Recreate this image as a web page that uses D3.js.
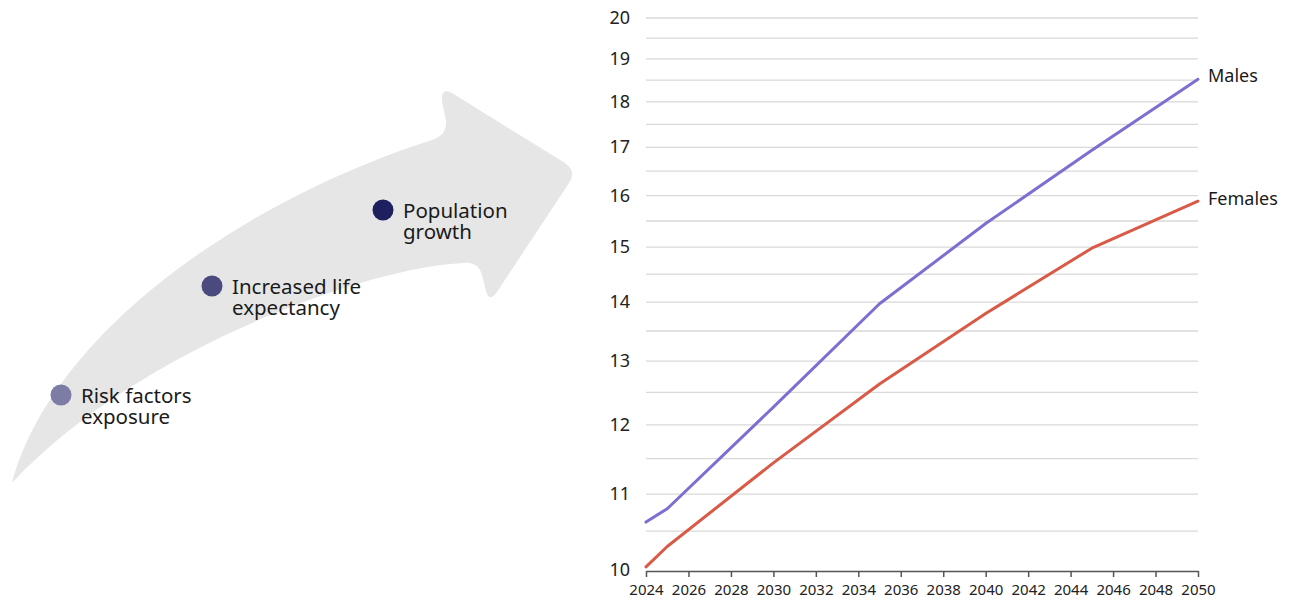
<!DOCTYPE html>
<html>
<head>
<meta charset="utf-8">
<script src="https://cdn.jsdelivr.net/npm/d3@7/dist/d3.min.js"></script>
<style>
  html, body { margin: 0; padding: 0; background: #fff; }
  svg { display: block; font-family: "Noto Sans", "Open Sans", sans-serif; }
</style>
</head>
<body>
<svg id="chart" width="1298" height="602"></svg>
<script>
// Projected values (index, log scale) by year
const years = [2024, 2025, 2030, 2035, 2040, 2045, 2050];
const males = [10.62, 10.80, 12.27, 13.97, 15.45, 16.94, 18.52];
const females = [10.04, 10.30, 11.44, 12.63, 13.80, 14.98, 15.89];

const yTickValues = [10, 11, 12, 13, 14, 15, 16, 17, 18, 19, 20];
const yMinorValues = [10.5, 11.5, 12.5, 13.5, 14.5, 15.5, 16.5, 17.5, 18.5, 19.5];
const xTickValues = [2024, 2026, 2028, 2030, 2032, 2034, 2036, 2038, 2040, 2042, 2044, 2046, 2048, 2050];

const seriesNames = ["Males", "Females"];
const seriesColors = ["#7b70d2", "#d95a47"];

// Drivers shown along the arrow
const drivers = [
  { lines: ["Risk factors", "exposure"], color: "#7c7ca6", cx: 61, cy: 395 },
  { lines: ["Increased life", "expectancy"], color: "#4a4a7f", cx: 212, cy: 286 },
  { lines: ["Population", "growth"], color: "#1e1f5e", cx: 383, cy: 210 }
];

const svg = d3.select("#chart");

// ---- Curved arrow illustration ----
const arrowPath =
  "M 12,483 " +
  "C 50,340 230,205 432,140 " +
  "Q 447,135 446,121 " +
  "L 442,101 " +
  "Q 441,87 452,93 " +
  "L 565,163 " +
  "Q 577,172 569,183 " +
  "L 497,292 " +
  "Q 489,303 486,291 " +
  "L 482,275 " +
  "Q 478,261 463,263 " +
  "C 360,268 130,355 12,483 Z";

svg.append("path")
  .attr("d", arrowPath)
  .attr("fill", "#e6e6e6");

const dg = svg.append("g").selectAll("g")
  .data(drivers)
  .join("g");

dg.append("circle")
  .attr("cx", d => d.cx)
  .attr("cy", d => d.cy)
  .attr("r", 10.5)
  .attr("fill", d => d.color);

dg.append("text")
  .attr("x", d => d.cx + 20)
  .attr("y", d => d.cy + 7.5)
  .attr("font-size", 20.5)
  .attr("fill", "#1a1a1a")
  .selectAll("tspan")
  .data(d => d.lines.map((t, i) => ({ t, i, x: d.cx + 20 })))
  .join("tspan")
  .attr("x", d => d.x)
  .attr("dy", d => d.i === 0 ? 0 : 21)
  .text(d => d.t);

// ---- Line chart ----
const x = d3.scaleLinear().domain([2024, 2050]).range([646, 1198]);
const y = d3.scaleLog().domain([10, 20]).range([570, 18]);

const grid = svg.append("g");
grid.selectAll("line.major")
  .data(yTickValues.filter(v => v !== 10))
  .join("line")
  .attr("class", "major")
  .attr("x1", x(2024)).attr("x2", x(2050))
  .attr("y1", d => y(d)).attr("y2", d => y(d))
  .attr("stroke", "#d9d9d9").attr("stroke-width", 1.3);
grid.selectAll("line.minor")
  .data(yMinorValues)
  .join("line")
  .attr("class", "minor")
  .attr("x1", x(2024)).attr("x2", x(2050))
  .attr("y1", d => y(d)).attr("y2", d => y(d))
  .attr("stroke", "#d9d9d9").attr("stroke-width", 1.3);

// Y tick labels
svg.append("g").selectAll("text")
  .data(yTickValues)
  .join("text")
  .attr("x", 630)
  .attr("y", d => y(d) - 0.5)
  .attr("dy", "0.35em")
  .attr("text-anchor", "end")
  .attr("font-size", 18)
  .attr("fill", "#222")
  .text(d => d);

// X axis
const xAxis = svg.append("g")
  .attr("transform", "translate(0,571)")
  .call(d3.axisBottom(x)
    .tickValues(xTickValues)
    .tickFormat(d3.format("d"))
    .tickSize(6)
    .tickSizeOuter(0)
    .tickPadding(7));
xAxis.select(".domain").attr("stroke", "#555").attr("stroke-width", 1.5);
xAxis.selectAll(".tick line").attr("stroke", "#555").attr("stroke-width", 1.5);
xAxis.selectAll(".tick text")
  .attr("font-size", 15)
  .attr("font-family", "\"Noto Sans\", \"Open Sans\", sans-serif")
  .attr("fill", "#222");

// Series lines
const line = d3.line()
  .x((d, i) => x(years[i]))
  .y(d => y(d));

const seriesData = [males, females];
svg.append("g").selectAll("path")
  .data(seriesData)
  .join("path")
  .attr("d", d => line(d))
  .attr("fill", "none")
  .attr("stroke", (d, i) => seriesColors[i])
  .attr("stroke-width", 3)
  .attr("stroke-linejoin", "round")
  .attr("stroke-linecap", "round");

// End labels
svg.append("g").selectAll("text")
  .data(seriesData)
  .join("text")
  .attr("x", x(2050) + 10)
  .attr("y", (d, i) => y(d[d.length - 1]) - (i === 0 ? 4 : 2))
  .attr("dy", "0.35em")
  .attr("font-size", 18)
  .attr("fill", "#1a1a1a")
  .text((d, i) => seriesNames[i]);
</script>
</body>
</html>
